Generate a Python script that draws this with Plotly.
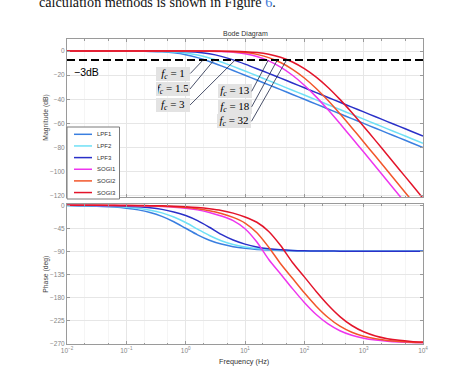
import math
import plotly.graph_objects as go

# ---------------- data ----------------
freq = [0.01, 0.01585, 0.02512, 0.03981, 0.0631, 0.1, 0.1585, 0.2512, 0.3981, 0.631,
        1, 1.585, 2.512, 3.981, 6.31, 10, 15.85, 25.12, 39.81, 63.1,
        100, 158.5, 251.2, 398.1, 631.0, 1000, 1585, 2512, 3981, 6310, 10000]

series_names = ["LPF1", "LPF2", "LPF3", "SOGI1", "SOGI2", "SOGI3"]
series_colors = ["#3a7fe0", "#6fe0f6", "#2a30c8", "#ee35ee", "#f2552a", "#e3142a"]

mag_lpf1 = [0, 0, 0, -0.01, -0.02, -0.04, -0.11, -0.27, -0.64, -1.46, -3.01, -5.46, -8.64,
            -12.27, -16.11, -20.04, -24.02, -28.01, -32.0, -36.0, -40.0, -44.0, -48.0, -52.0,
            -56.0, -60.0, -64.0, -68.0, -72.0, -76.0, -80.0]
mag_lpf2 = [0, 0, 0, 0, -0.01, -0.02, -0.05, -0.12, -0.30, -0.71, -1.60, -3.26, -5.80,
            -9.06, -12.72, -16.58, -20.52, -24.49, -28.49, -32.48, -36.48, -40.48, -44.48,
            -48.48, -52.48, -56.48, -60.48, -64.48, -68.48, -72.48, -76.48]
mag_lpf3 = [0, 0, 0, 0, 0, 0, -0.01, -0.03, -0.08, -0.19, -0.46, -1.07, -2.31, -4.41,
            -7.34, -10.83, -14.61, -18.52, -22.48, -26.46, -30.46, -34.46, -38.46, -42.46,
            -46.46, -50.46, -54.46, -58.46, -62.46, -66.46, -70.46]
mag_sogi1 = [0, 0, 0, 0, 0, 0, 0, 0, 0, -0.01, -0.03, -0.07, -0.17, -0.41, -0.98, -2.21,
             -4.49, -8.14, -13.32, -20.07, -28.34, -37.99, -48.72, -60.13, -71.87, -83.76,
             -95.72, -107.71, -119.71, -131.7, -143.7]
mag_sogi2 = [0, 0, 0, 0, 0, 0, 0, 0, 0, -0.01, -0.01, -0.04, -0.09, -0.22, -0.54, -1.26,
             -2.75, -5.42, -9.51, -15.14, -22.35, -31.05, -41.07, -52.03, -63.56, -75.38,
             -87.29, -99.26, -111.25, -123.25, -135.25]
mag_sogi3 = [0, 0, 0, 0, 0, 0, 0, 0, 0, 0, 0, -0.01, -0.03, -0.08, -0.20, -0.49, -1.16,
             -2.57, -5.11, -9.05, -14.55, -21.6, -30.17, -40.07, -50.96, -62.47, -74.25,
             -86.16, -98.12, -110.1, -122.1]

ph_lpf1 = [-0.57, -0.91, -1.44, -2.28, -3.61, -5.71, -9.01, -14.1, -21.7, -32.25, -45.0,
           -57.75, -68.3, -75.9, -81.0, -84.29, -86.39, -87.72, -88.56, -89.09, -89.43,
           -89.64, -89.77, -89.86, -89.91, -89.94, -89.96, -89.98, -89.98, -89.99, -89.99]
ph_lpf2 = [-0.38, -0.61, -0.96, -1.52, -2.41, -3.82, -6.03, -9.51, -14.87, -22.82, -33.69,
           -46.58, -59.16, -69.36, -76.63, -81.47, -84.6, -86.58, -87.84, -88.64, -89.14,
           -89.46, -89.66, -89.78, -89.86, -89.91, -89.95, -89.97, -89.98, -89.99, -89.99]
ph_lpf3 = [-0.19, -0.30, -0.48, -0.76, -1.20, -1.91, -3.02, -4.9, -8.0, -13.0, -20.0,
           -30.0, -43.0, -57.0, -68.0, -76.0, -81.5, -85.0, -87.2, -88.5, -89.1,
           -89.4, -89.6, -89.7, -89.8, -89.85, -89.9, -89.93, -89.96, -89.97, -89.98]
ph_sogi1 = [-0.06, -0.10, -0.16, -0.25, -0.39, -0.62, -0.98, -1.55, -2.45, -3.7, -5.6,
            -9.0, -14.0, -21.0, -30.0, -46.0, -72.0, -106.0, -134.28, -163.03, -190.05,
            -213.59, -232.14, -245.41, -254.29, -260.03, -263.69, -266.02, -267.49,
            -268.41, -269.0]
ph_sogi2 = [-0.05, -0.07, -0.11, -0.18, -0.28, -0.45, -0.71, -1.12, -1.77, -2.81, -4.3,
            -6.8, -10.5, -16.0, -23.7, -34.7, -53.7, -82.0, -114.3, -142.82, -171.25,
            -197.43, -219.62, -236.59, -248.42, -256.26, -261.3, -264.5, -266.53,
            -267.8, -268.61]
ph_sogi3 = [-0.03, -0.04, -0.07, -0.11, -0.17, -0.27, -0.43, -0.68, -1.07, -1.70, -2.69,
            -4.2, -6.6, -10.0, -15.4, -22.8, -33.2, -51.2, -78.8, -112.0, -140.09,
            -168.62, -195.08, -217.72, -235.21, -247.5, -255.66, -260.91, -264.25,
            -266.37, -267.7]

mag_values = [mag_lpf1, mag_lpf2, mag_lpf3, mag_sogi1, mag_sogi2, mag_sogi3]
phase_values = [ph_lpf1, ph_lpf2, ph_lpf3, ph_sogi1, ph_sogi2, ph_sogi3]

cutoff_db = -7.5
cutoff_label = "\u22123dB"
fc_labels = ["1", "1.5", "3", "13", "18", "32"]
fc_cross_freq = [1.96, 3.0, 6.8, 24.7, 35.0, 50.0]

mag_ticks = [0, -20, -40, -60, -80, -100, -120]
phase_ticks = [0, -45, -90, -135, -180, -225, -270]
freq_ticks = [0.01, 0.1, 1, 10, 100, 1000, 10000]
freq_ticktext = ["10<sup>\u22122</sup>", "10<sup>\u22121</sup>", "10<sup>0</sup>",
                 "10<sup>1</sup>", "10<sup>2</sup>", "10<sup>3</sup>", "10<sup>4</sup>"]

# ---------------- layout geometry ----------------
W, H = 474, 370
ML, MR, MT, MB = 67, 51, 39, 26
PW, PH = W - ML - MR, H - MT - MB


def px_x(px):
    return (px - ML) / PW


def px_y(py):
    return (H - MB - py) / PH


SANS = "Liberation Sans, Arial, sans-serif"
SERIF = "Liberation Serif, Times New Roman, serif"
AXC = "#9a9a9a"
GRID = "#e6e6e6"
TICKF = dict(family=SANS, size=6.5, color="#858585")

fig = go.Figure()
for name, color, mag, ph in zip(series_names, series_colors, mag_values, phase_values):
    fig.add_trace(go.Scatter(x=freq, y=mag, name=name, mode="lines",
                             line=dict(color=color, width=1.5, shape="spline", smoothing=0.8),
                             xaxis="x", yaxis="y", showlegend=False))
    fig.add_trace(go.Scatter(x=freq, y=ph, name=name, mode="lines",
                             line=dict(color=color, width=1.5, shape="spline", smoothing=0.8),
                             xaxis="x2", yaxis="y2", showlegend=False))

common_x = dict(type="log", range=[-2, 4], tickvals=freq_ticks, ticktext=freq_ticktext,
                showline=True, linecolor=AXC, linewidth=1,
                mirror="ticks", ticks="inside", ticklen=3, tickcolor=AXC,
                showgrid=True, gridcolor=GRID, gridwidth=1, zeroline=False,
                minor=dict(ticks="inside", ticklen=1.5, tickcolor=AXC, showgrid=True,
                           gridcolor="#f5f5f5"),
                tickfont=TICKF)
common_y = dict(showline=True, linecolor=AXC, linewidth=1, mirror="ticks", ticks="inside",
                ticklen=3, tickcolor=AXC, showgrid=True, gridcolor=GRID, zeroline=False,
                tickfont=TICKF)

top_dom = [px_y(197), 1.0]
bot_dom = [0.0, px_y(204)]

fig.update_layout(
    width=W, height=H, margin=dict(l=ML, r=MR, t=MT, b=MB),
    paper_bgcolor="white", plot_bgcolor="white", showlegend=False,
    xaxis=dict(common_x, anchor="y", domain=[0, 1], showticklabels=False, matches="x2"),
    yaxis=dict(common_y, anchor="x", domain=top_dom, range=[-121, 10],
               tickvals=mag_ticks, ticktext=[str(v).replace("-", "\u2212") for v in mag_ticks]),
    xaxis2=dict(common_x, anchor="y2", domain=[0, 1]),
    yaxis2=dict(common_y, anchor="x2", domain=bot_dom, range=[-271.4, 2.5],
                tickvals=phase_ticks, ticktext=[str(v).replace("-", "\u2212") for v in phase_ticks]),
)

shapes = []
annotations = []

# -3 dB dashed reference line
shapes.append(dict(type="line", xref="x domain", yref="y", x0=0, x1=1.008,
                   y0=cutoff_db, y1=cutoff_db, line=dict(color="black", width=2, dash="8px,4px")))
annotations.append(dict(text=cutoff_label, xref="paper", yref="paper", x=px_x(72), y=px_y(71.5),
                        xanchor="left", yanchor="middle", showarrow=False,
                        font=dict(family=SANS, size=10.5, color="black")))

# cutoff-frequency labels with leader lines
label_offsets = [(-12.7, 13.4), (-24.0, 28.9), (-45.0, 44.9),
                 (-16.6, 31.2), (-25.6, 46.7), (-35.0, 61.2)]
for lab, fx, (ox, oy) in zip(fc_labels, fc_cross_freq, label_offsets):
    annotations.append(dict(
        text="<i>f</i><sub><i>c</i></sub> = " + lab, xref="x", yref="y",
        x=math.log10(fx), y=cutoff_db, ax=ox, ay=oy, axref="pixel", ayref="pixel",
        xanchor="right", yanchor="middle", showarrow=True, arrowhead=0, arrowwidth=0.8,
        arrowcolor="#1c2444", standoff=0, startstandoff=0,
        bgcolor="#e3e3e3", borderwidth=0, borderpad=2, width=30, height=10,
        font=dict(family=SERIF, size=11, color="black")))

# manual legend (compact, MATLAB-like)
shapes.append(dict(type="rect", xref="paper", yref="paper", x0=px_x(67), x1=px_x(119.5),
                   y0=px_y(199), y1=px_y(127), line=dict(color="#7a7a7a", width=1),
                   fillcolor="white", layer="above"))
for i, (name, color) in enumerate(zip(series_names, series_colors)):
    yy = 134.3 + 11.65 * i
    shapes.append(dict(type="line", xref="paper", yref="paper", x0=px_x(74), x1=px_x(92),
                       y0=px_y(yy), y1=px_y(yy), line=dict(color=color, width=1.5), layer="above"))
    annotations.append(dict(text=name, xref="paper", yref="paper", x=px_x(94.5), y=px_y(yy),
                            xanchor="left", yanchor="middle", showarrow=False,
                            font=dict(family=SANS, size=6, color="#333333")))

# titles
annotations.append(dict(text="Bode Diagram", xref="paper", yref="paper", x=0.5, y=px_y(34),
                        xanchor="center", yanchor="middle", showarrow=False,
                        font=dict(family=SANS, size=7, color="#333333")))
annotations.append(dict(text="Magnitude (dB)", xref="paper", yref="paper", x=px_x(45.7),
                        y=px_y(118), textangle=-90, xanchor="center", yanchor="middle",
                        showarrow=False, font=dict(family=SANS, size=6.8, color="#444444")))
annotations.append(dict(text="Phase (deg)", xref="paper", yref="paper", x=px_x(45.7),
                        y=px_y(274), textangle=-90, xanchor="center", yanchor="middle",
                        showarrow=False, font=dict(family=SANS, size=6.8, color="#444444")))
annotations.append(dict(text="Frequency (Hz)", xref="paper", yref="paper", x=px_x(244),
                        y=px_y(361), xanchor="center", yanchor="middle", showarrow=False,
                        font=dict(family=SANS, size=7.3, color="#333333")))
# cropped paragraph line above the figure
annotations.append(dict(text="calculation methods is shown in Figure <span style='color:#3b78d8'>6</span>.",
                        xref="paper", yref="paper", x=px_x(37), y=px_y(2.5),
                        xanchor="left", yanchor="middle", showarrow=False,
                        font=dict(family=SERIF, size=14.2, color="#111111")))

fig.update_layout(shapes=shapes, annotations=annotations)
fig.write_html("out.html", config={"displayModeBar": False},
               post_script="document.body.style.margin='0px';document.body.style.padding='0px';")
